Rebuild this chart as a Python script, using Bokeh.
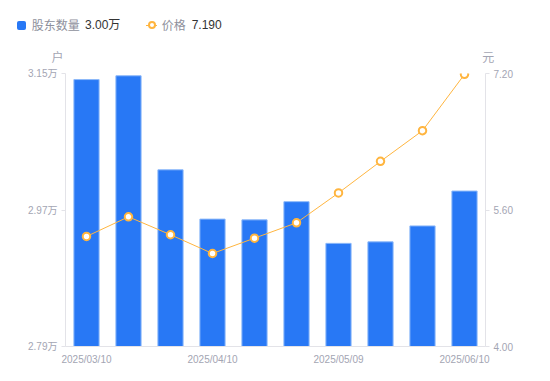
from bokeh.plotting import figure
from bokeh.models import Range1d, LinearAxis, FixedTicker, PrintfTickFormatter, Div
from bokeh.layouts import column
from bokeh.embed import file_html
from bokeh.resources import INLINE

# ---- data ----
dates = ["2025/03/10", "2025/03/20", "2025/03/31", "2025/04/10", "2025/04/18",
         "2025/04/30", "2025/05/09", "2025/05/20", "2025/05/30", "2025/06/10"]
holders_wan = [3.142, 3.147, 3.023, 2.958, 2.957, 2.981, 2.926, 2.928, 2.949, 2.995]
price = [5.29, 5.52, 5.31, 5.09, 5.27, 5.45, 5.80, 6.17, 6.53, 7.19]
shown_date_idx = [0, 3, 6, 9]
left_ticks = [2.79, 2.97, 3.15]
right_ticks = [4.00, 5.60, 7.20]
legend_names = ["股东数量", "价格"]
legend_values = ["3.00万", "7.190"]
units = ["户", "元"]

BLUE = "#2878F5"
BLUE_EDGE = "#8DB9F9"
ORANGE = "#FFB53F"
TICK_GRAY = "#A3A5B3"
AXIS_GRAY = "#E3E3E8"
FONT = '"Liberation Sans", "Noto Sans CJK SC"'
CJK_CSS = "'Noto Sans CJK SC', sans-serif"
NUM_CSS = "'Liberation Sans', 'Noto Sans CJK SC', sans-serif"

xs = list(range(len(dates)))

# ---- header (legend + unit labels) as HTML text ----
def span(txt, left, top, color, font, size=12, extra=""):
    return (f"<span style=\"position:absolute;left:{left}px;top:{top}px;line-height:16px;"
            f"font-size:{size}px;color:{color};font-family:{font};white-space:nowrap;{extra}\">{txt}</span>")

header_html = (
    "<div style=\"position:relative;width:534px;height:64px;\">"
    "<span style=\"position:absolute;left:16.7px;top:21px;width:9.3px;height:8.7px;"
    f"background:{BLUE};border-radius:2px;\"></span>"
    + span(legend_names[0], 31.7, 17, "#8E909C", CJK_CSS)
    + span(legend_values[0], 85, 17, "#333333", NUM_CSS)
    + f"<span style=\"position:absolute;left:146px;top:24.7px;width:10.5px;height:1.2px;background:{ORANGE};\"></span>"
    + f"<span style=\"position:absolute;box-sizing:border-box;left:147.7px;top:21.3px;width:8px;height:8px;"
      f"border:2px solid {ORANGE};border-radius:50%;background:#fff;\"></span>"
    + span(legend_names[1], 161.7, 17, "#8E909C", CJK_CSS)
    + span(legend_values[1], 191.7, 17, "#333333", NUM_CSS)
    + span(units[0], 51.5, 48.7, TICK_GRAY, CJK_CSS, 12)
    + span(units[1], 482.3, 49.3, TICK_GRAY, CJK_CSS, 12)
    + "</div>"
)
header = Div(text=header_html, width=534, height=64, margin=0)

# ---- main chart ----
p = figure(width=534, height=309, x_range=Range1d(-0.5, len(dates) - 0.5),
           y_range=Range1d(left_ticks[0], left_ticks[-1]),
           output_backend="svg", toolbar_location=None,
           min_border_left=65, min_border_right=49, min_border_top=9, min_border_bottom=27)
p.outline_line_color = None
p.grid.visible = False
p.extra_y_ranges = {"price": Range1d(right_ticks[0], right_ticks[-1])}

p.vbar(x=xs, top=holders_wan, bottom=left_ticks[0], width=0.6,
       fill_color=BLUE, line_color=BLUE_EDGE, line_width=1)
p.line(x=xs, y=price, y_range_name="price", line_color=ORANGE, line_width=1)
p.scatter(x=xs, y=price, y_range_name="price", size=7.5, fill_color="white",
          line_color=ORANGE, line_width=2)

def style_axis(ax):
    ax.axis_line_color = AXIS_GRAY
    ax.major_tick_line_color = AXIS_GRAY
    ax.minor_tick_line_color = None
    ax.major_tick_in = 0
    ax.major_label_text_color = TICK_GRAY
    ax.major_label_text_font_size = "10px"
    ax.major_label_text_font = FONT

xa = p.xaxis[0]
style_axis(xa)
xa.ticker = FixedTicker(ticks=shown_date_idx)
xa.major_label_overrides = {i: dates[i] for i in shown_date_idx}
xa.major_tick_out = 0
xa.major_label_standoff = 7

ya = p.yaxis[0]
style_axis(ya)
ya.ticker = FixedTicker(ticks=left_ticks)
ya.formatter = PrintfTickFormatter(format="%.2f万")
ya.major_tick_out = 4
ya.major_label_standoff = 4

yr = LinearAxis(y_range_name="price")
style_axis(yr)
yr.ticker = FixedTicker(ticks=right_ticks)
yr.formatter = PrintfTickFormatter(format="%.2f")
yr.major_tick_out = 4
yr.major_label_standoff = 4
p.add_layout(yr, "right")

layout = column(header, p, spacing=0)
open("out.html", "w").write(file_html(layout, INLINE))
